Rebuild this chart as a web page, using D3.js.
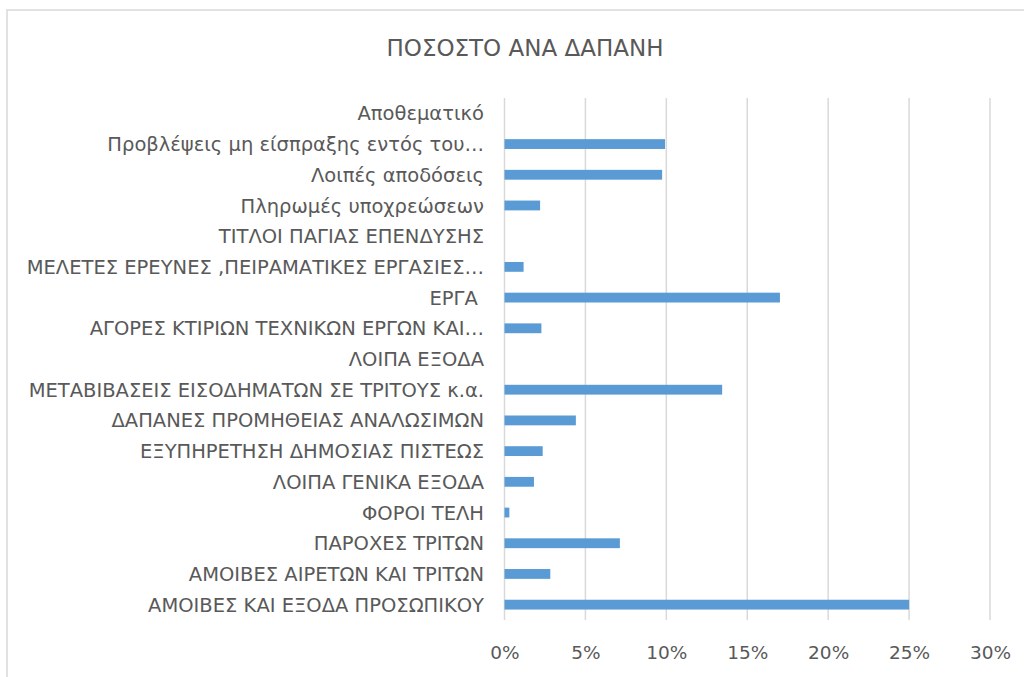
<!DOCTYPE html>
<html>
<head>
<meta charset="utf-8">
<script src="https://cdn.jsdelivr.net/npm/d3@7"></script>
<style>
  html, body { margin: 0; padding: 0; background: #fff; }
  svg { display: block; }
  text { font-family: "DejaVu Sans", "Liberation Sans", sans-serif; fill: #595959; white-space: pre; }
</style>
</head>
<body>
<svg id="chart" width="1024" height="677"></svg>
<script>
const title = "ΠΟΣΟΣΤΟ ΑΝΑ ΔΑΠΑΝΗ";
const categories = [
  "Αποθεματικό",
  "Προβλέψεις μη είσπραξης εντός του…",
  "Λοιπές αποδόσεις",
  "Πληρωμές υποχρεώσεων",
  "ΤΙΤΛΟΙ ΠΑΓΙΑΣ ΕΠΕΝΔΥΣΗΣ",
  "ΜΕΛΕΤΕΣ ΕΡΕΥΝΕΣ ,ΠΕΙΡΑΜΑΤΙΚΕΣ ΕΡΓΑΣΙΕΣ…",
  "ΕΡΓΑ ",
  "ΑΓΟΡΕΣ ΚΤΙΡΙΩΝ ΤΕΧΝΙΚΩΝ ΕΡΓΩΝ ΚΑΙ…",
  "ΛΟΙΠΑ ΕΞΟΔΑ",
  "ΜΕΤΑΒΙΒΑΣΕΙΣ ΕΙΣΟΔΗΜΑΤΩΝ ΣΕ ΤΡΙΤΟΥΣ κ.α.",
  "ΔΑΠΑΝΕΣ ΠΡΟΜΗΘΕΙΑΣ ΑΝΑΛΩΣΙΜΩΝ",
  "ΕΞΥΠΗΡΕΤΗΣΗ ΔΗΜΟΣΙΑΣ ΠΙΣΤΕΩΣ",
  "ΛΟΙΠΑ ΓΕΝΙΚΑ ΕΞΟΔΑ",
  "ΦΟΡΟΙ ΤΕΛΗ",
  "ΠΑΡΟΧΕΣ ΤΡΙΤΩΝ",
  "ΑΜΟΙΒΕΣ ΑΙΡΕΤΩΝ ΚΑΙ ΤΡΙΤΩΝ",
  "ΑΜΟΙΒΕΣ ΚΑΙ ΕΞΟΔΑ ΠΡΟΣΩΠΙΚΟΥ"
];
const values = [
  0, 0.0992, 0.0974, 0.0220, 0, 0.0118, 0.1702, 0.0228, 0,
  0.1345, 0.0441, 0.0236, 0.0182, 0.0030, 0.0713, 0.0283, 0.2500
];
const xTicks = [0, 0.05, 0.10, 0.15, 0.20, 0.25, 0.30];

const data = categories.map((c, i) => ({ cat: c, val: values[i] }));
const svg = d3.select("#chart");

// chart frame
svg.append("rect")
  .attr("x", 7).attr("y", 10)
  .attr("width", 1030).attr("height", 700)
  .attr("fill", "#fff")
  .attr("stroke", "#d9d9d9").attr("stroke-width", 1.5);

const plot = { left: 504.5, right: 990, top: 98, bottom: 620 };

const x = d3.scaleLinear().domain([0, 0.30]).range([plot.left, plot.right]);
const y = d3.scaleBand().domain(categories).range([plot.top, plot.bottom])
  .paddingInner(0.68).paddingOuter(0.34);

// title
svg.append("text")
  .attr("x", 525).attr("y", 56)
  .attr("text-anchor", "middle")
  .style("font-size", "23px")
  .text(title);

// gridlines
svg.append("g")
  .selectAll("line")
  .data(xTicks)
  .join("line")
  .attr("x1", d => x(d)).attr("x2", d => x(d))
  .attr("y1", plot.top).attr("y2", plot.bottom)
  .attr("stroke", "#d9d9d9").attr("stroke-width", 1.5);

// x axis labels
const xAxis = d3.axisBottom(x).tickValues(xTicks).tickFormat(d3.format(".0%")).tickSize(0).tickPadding(0);
const gx = svg.append("g").attr("transform", `translate(0, ${plot.bottom})`).call(xAxis);
gx.select(".domain").remove();
gx.attr("font-family", null).attr("font-size", null);
gx.selectAll("text")
  .attr("y", 39).attr("dy", null)
  .style("font-size", "18.5px").attr("fill", null);

// y axis labels
const yAxis = d3.axisLeft(y).tickSize(0).tickPadding(0);
const gy = svg.append("g").attr("transform", `translate(${484}, 0)`).call(yAxis);
gy.select(".domain").remove();
gy.attr("font-family", null).attr("font-size", null);
gy.selectAll("text")
  .attr("x", 0).attr("dy", "0.36em")
  .style("font-size", "19.5px").attr("fill", null);

// bars
svg.append("g")
  .selectAll("rect")
  .data(data.filter(d => d.val > 0))
  .join("rect")
  .attr("x", x(0))
  .attr("y", d => y(d.cat))
  .attr("width", d => x(d.val) - x(0))
  .attr("height", y.bandwidth())
  .attr("fill", "#5b9bd5");
</script>
</body>
</html>
